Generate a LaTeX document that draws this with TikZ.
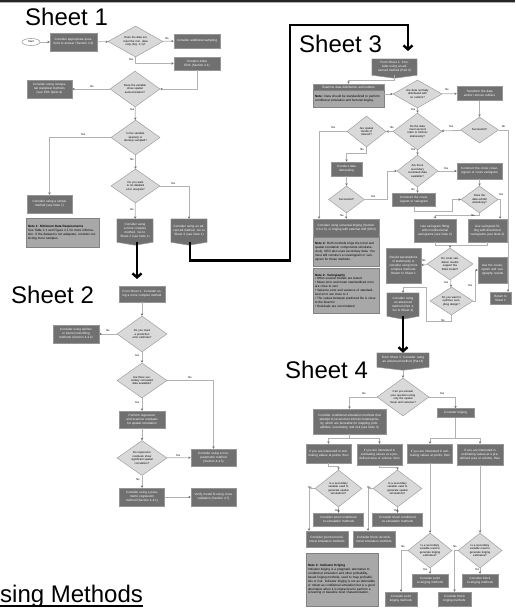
\documentclass[tikz,border=0pt]{standalone}
\usepackage{fontspec}
\setmainfont{Liberation Sans}
\usetikzlibrary{shapes.geometric,arrows.meta,calc}
\newcommand\nodefont{\fontsize{3.1}{3.9}\selectfont}
\newcommand\diafont{\fontsize{2.8}{3.4}\selectfont}
\newcommand\lblfont{\fontsize{2.7}{3}\selectfont}
\newcommand\bigtitlefont{\fontsize{24}{28}\selectfont}
\definecolor{bx}{RGB}{112,112,112}
\definecolor{bxe}{RGB}{150,150,150}
\definecolor{dg}{RGB}{217,217,217}
\definecolor{dge}{RGB}{160,160,160}
\definecolor{nt}{RGB}{168,168,168}
\definecolor{nte}{RGB}{130,130,130}
\definecolor{ln}{RGB}{178,178,178}
\definecolor{tipc}{RGB}{110,110,110}
\newcommand\offpage[1]{%
  \fill[bx] (#1.south west) -- ($(#1.south)+(0,3)$) -- (#1.south east) -- cycle;
  \draw[bxe,line width=0.5pt,line join=round] (#1.north west) -- (#1.north east) -- (#1.south east) -- ($(#1.south)+(0,3)$) -- (#1.south west) -- cycle;}
\tikzset{
  box/.style 2 args={rectangle, fill=bx, draw=bxe, line width=0.5pt, text=white, font=\nodefont, align=center, inner sep=0.5pt, minimum width=#1pt, minimum height=#2pt, text width=#1pt-4pt},
  opg/.style 2 args={rectangle, fill=bx, draw=none, text=white, font=\nodefont, align=center, inner sep=0.5pt, minimum width=#1pt, minimum height=#2pt-3pt, text width=#1pt-4pt},
  dia/.style n args={3}{diamond, fill=dg, draw=dge, line width=0.5pt, text=black, font=\diafont, align=center, inner sep=0pt, minimum width=#1pt, minimum height=#2pt, text width=#1pt*0.5, aspect=#3},
  note/.style 2 args={rectangle, fill=nt, draw=nte, line width=0.6pt, text=black, font=\nodefont, align=left, inner sep=1.5pt, minimum width=#1pt, minimum height=#2pt, text width=#1pt-4pt},
  ell/.style={ellipse, draw=dge, fill=white, line width=0.6pt, font=\lblfont, minimum width=18pt, minimum height=7pt, inner sep=0pt},
  lbl/.style={font=\lblfont, text=black, inner sep=0pt},
  conn/.style={draw=ln, line width=0.8pt, -{Stealth[length=2.4pt,width=2.4pt,color=tipc]}},
  plain/.style={draw=ln, line width=0.8pt},
  big/.style={draw=black, line width=2.4pt, -{Straight Barb[length=4pt,width=9pt]}},
  sheet/.style={font=\bigtitlefont, anchor=base west, inner sep=0pt, text=black}
}
\begin{document}
\begin{tikzpicture}[x=1pt,y=-1pt]
\useasboundingbox (0,0) rectangle (515,612);
\fill[white] (0,0) rectangle (515,612);
\fill[gray!30!black] (0,0) rectangle (515,2.2);
\fill[gray!60] (0,2.2) rectangle (515,3);

% ---------------- Sheet 1 ----------------
\node[sheet] (t1) at (25,26) {Sheet 1};
\node[ell] (start) at (31,42) {Start};
\node[box={47}{18}] (s1b1) at (73.5,42) {Consider appropriate questions to answer (Section 2.3)};
\node[dia={55}{31}{1.77}] (s1d1) at (135.5,41.5) {Does the data set meet the min. data reqs (Fig. 2.1)?};
\node[box={46}{14}] (s1r1) at (197,41) {Consider additional sampling};
\node[box={46}{13}] (s1r2) at (197,63.5) {Conduct initial EDA (Section 4.1)};
\node[dia={50}{36}{1.39}] (s1d2) at (135,89) {Does the variable show spatial autocorrelation?};
\node[box={45}{18}] (s1l1) at (49.5,89) {Consider using nonspatial statistical methods (see EPA QA/G-9)};
\node[dia={49}{35}{1.4}] (s1d3) at (135.5,137.5) {Is the variable sparsely or densely sampled?};
\node[box={45}{18}] (s1l2) at (49.5,204) {Consider using a simple method (see Note 1)};
\node[note={73}{29}] (s1n1) at (62.5,232.5) {\textbf{Note 1: Minimum Data Requirements}\\See Table 2.1 and Figure 2.1 for more information. If the dataset is not adequate, consider collecting more samples.};
\node[dia={49}{34}{1.44}] (s1d4) at (135.5,186) {Do you want to do detailed error analysis?};
\node[opg={36}{26}] (s1o1) at (135,230.5) {Consider using a more complex method. Go to Sheet 2 (see Note 1)};
\offpage{s1o1}
\node[opg={36}{26}] (s1o2) at (189,230.5) {Consider using an advanced method. Go to Sheet 3 (see Note 1)};
\offpage{s1o2}

\draw[conn] (start) -- (s1b1);
\draw[conn] (s1b1) -- (s1d1);
\draw[conn] (s1d1) -- (s1r1);
\draw[conn] (s1d1.south) |- (s1r2.west);
\draw[conn] (s1r2.south) |- (s1d2.east);
\draw[conn] (s1d2) -- (s1l1);
\draw[conn] (s1d2) -- (s1d3);
\draw[conn] (s1d3.west) -| (s1l2.north);
\draw[conn] (s1d3) -- (s1d4);
\draw[conn] (s1d4.east) -| (s1o2.north);
\draw[conn] (s1d4) -- (s1o1);
\node[lbl] (l101) at (167,38.5) {No};
\node[lbl] (l102) at (131,59.5) {Yes};
\node[lbl] (l103) at (92,87) {No};
\node[lbl] (l104) at (132,110) {Yes};
\node[lbl] (l105) at (83,134.5) {Yes};
\node[lbl] (l106) at (132,159.5) {No};
\node[lbl] (l107) at (173,183.5) {Yes};
\node[lbl] (l108) at (132,210) {No};

% ---------------- Sheet 2 ----------------
\node[sheet] (t2) at (11,303) {Sheet 2};
\node[box={46}{16}] (s2t) at (142,294) {From Sheet 1: Consider using a more complex method};
\node[dia={50}{36}{1.39}] (s2d1) at (142,334) {Do you need a prediction error estimate?};
\node[box={46}{18}] (s2l) at (76,334) {Consider using splines or kernel smoothing methods (Section 4.4.2)};
\node[dia={50}{35}{1.43}] (s2d2) at (142,380.5) {Are there secondary correlated data available?};
\node[box={46}{17}] (s2b) at (142,419.5) {Perform regression and examine residuals for spatial correlation};
\node[dia={50}{35}{1.43}] (s2d3) at (142,458) {Do regression residuals show significant spatial correlation?};
\node[box={45}{17}] (s2r1) at (213.5,457.5) {Consider using a nonparametric method (Section 4.4.3)};
\node[box={45}{18}] (s2c) at (142,497) {Consider using a parametric regression method (Section 4.4.1)};
\node[box={45}{18}] (s2r2) at (213.5,497) {Verify model fit using cross validation (Section 4.7)};

\draw[conn] (s2t) -- (s2d1);
\draw[conn] (s2d1) -- (s2l);
\draw[conn] (s2d1) -- (s2d2);
\draw[conn] (s2d2.east) -| (s2r1.north);
\draw[conn] (s2d2) -- (s2b);
\draw[conn] (s2b) -- (s2d3);
\draw[conn] (s2d3) -- (s2r1);
\draw[conn] (s2d3) -- (s2c);
\draw[conn] (s2c) -- (s2r2);
\node[lbl] (l201) at (108,331) {No};
\node[lbl] (l202) at (137,356) {Yes};
\node[lbl] (l203) at (190,378) {No};
\node[lbl] (l204) at (137,403) {Yes};
\node[lbl] (l205) at (178,456) {Yes};
\node[lbl] (l206) at (138,480) {No};

% ---------------- Sheet 3 ----------------
\node[sheet] (t3) at (299,53) {Sheet 3};
\node[opg={45}{19}] (s3t) at (394.5,67) {From Sheet 1: Consider using an advanced method (Part 3)};
\offpage{s3t}
\node[box={71}{6}] (s3eh) at (348.5,87) {Examine data distribution and outliers};
\node[note={71}{17}] (s3eb) at (348.5,98.5) {\textbf{Note:} Data should be standardized to perform conditional simulation and factorial kriging.};
\node[dia={49}{28}{1.75}] (s3da) at (417.5,94) {Are data normally distributed with no outliers?};
\node[box={45}{14}] (s3tr) at (479.5,93.5) {Transform the data and/or remove outliers};
\node[dia={38}{26}{1.46}] (s3sc) at (479.5,130) {Successful?};
\node[dia={49}{37}{1.32}] (s3db) at (417.5,131.5) {Do the data meet second order or intrinsic stationarity?};
\node[dia={39}{31}{1.26}] (s3dc) at (366.5,131.5) {Are spatial trends of interest?};
\node[box={31}{14}] (s3det) at (346.5,169) {Conduct data detrending};
\node[dia={36}{27}{1.33}] (s3sc2) at (346.5,199.5) {Successful?};
\node[box={66}{18}] (s3ukh) at (346,228) {Consider using universal kriging (Section 4.3.2.3), or kriging with external drift (KED)};
\node[note={66}{29}] (s3ukb) at (346,251.5) {\textbf{Note 4:} Both methods krige the trend and spatial correlation components simultaneously. KED also uses secondary data. You must still construct a covariogram or variogram for these methods.};
\node[note={66}{45}] (s3n2) at (346,290.5) {\textbf{Note 2: Variography}\\%
• Often several models are tested\\%
• Mean error and mean standardized error are close to zero\\%
• Variance error and variance of standardized error are close to 1\\%
• The values between predicted fits is close to the bisector\\%
• Residuals are uncorrelated};
\node[dia={41}{32}{1.28}] (s3dd) at (417.5,171) {Are there secondary correlated data available?};
\node[box={45}{16}] (s3cx) at (479.5,171) {Construct the cross covariogram or cross variogram};
\node[box={43}{13}] (s3cv) at (414,199.5) {Construct the covariogram or variogram};
\node[dia={37}{27}{1.37}] (s3ae) at (479.5,199.5) {Does the data exhibit anisotropy?};
\node[box={42}{23}] (s3vn) at (435,230.5) {Use variogram fitting with nondirectional variograms (see Note 2)};
\node[box={39}{23}] (s3vd) at (487.5,230.5) {Use variogram fitting with directional variograms (see Note 2)};
\node[dia={46}{32}{1.44}] (s3cvd) at (450,264) {Do cross validation results support the fitted model?};
\node[box={35}{35}] (s3rev) at (403.5,265.5) {Revisit assumptions of stationarity or consider using more complex methods. Return to Sheet 1};
\node[dia={43}{28}{1.54}] (s3opt) at (451.5,301) {Do you want to optimize sampling design?};
\node[box={29}{26}] (s3use) at (492.5,270) {Use the covariogram and variography results};
\node[opg={32}{26}] (s3adv) at (403,304.5) {Consider using an advanced method (Part 4, Go to Sheet 4)};
\offpage{s3adv}
\node[box={21}{12}] (s3ret) at (500.5,298) {Return to Sheet 1};

\draw[conn] (s3t.south) -- ++(0,5) -| (s3eh.north);
\draw[conn] (s3eb.east |- s3da.west) -- (s3da.west);
\draw[conn] (s3da) -- (s3tr);
\draw[conn] (s3da) -- (s3db);
\draw[conn] (s3tr) -- (s3sc);
\draw[conn] (s3sc) -- (s3db);
\draw[conn] (s3sc.east) -| ([xshift=7.5pt]s3ret.north);
\draw[conn] (s3db) -- (s3dc);
\draw[conn] (s3dc.west) -| ([xshift=-27pt]s3ukh.north);
\draw[conn] (s3dc.south) -- ++(0,6) -| (s3det.north);
\draw[conn] (s3det) -- (s3sc2);
\draw[conn] (s3sc2) -- (s3ukh);
\draw[conn] (s3sc2.east) -- ++(23,0) |- (s3dd.west);
\draw[conn] (s3db) -- (s3dd);
\draw[conn] (s3dd) -- (s3cx);
\draw[conn] (s3dd.south) -- (s3dd.south |- s3cv.north);
\draw[conn] (s3cx) -- (s3ae);
\draw[conn] (s3cv.south) -- ++(0,5) -| ([xshift=-8pt]s3ae.west) -- (s3ae.west);
\draw[conn] (s3ae.south) -- ++(0,2) -| (s3vn.north);
\draw[conn] (s3ae.east) -| ([xshift=12.5pt]s3vd.north);
\coordinate (m3) at (450,245);
\draw[plain] (s3vn.south) |- (m3);
\draw[plain] (s3vd.south) |- (m3);
\draw[conn] (m3) -- (s3cvd.north);
\draw[conn] (s3cvd) -- (s3rev);
\draw[conn] (s3cvd) -- (s3opt);
\draw[conn] (s3opt.east) -- ++(2.5,0) |- (s3use.west);
\coordinate (q3) at (426,287);
\draw[conn] (s3opt.south) -- ++(0,6) -| (q3) -| (s3adv.north);
\node[lbl] (l301) at (447,90) {No};
\node[lbl] (l302) at (413,110) {Yes};
\node[lbl] (l303) at (503.5,127) {No};
\node[lbl] (l304) at (451,127) {Yes};
\node[lbl] (l305) at (392,127.5) {No};
\node[lbl] (l306) at (413,150) {Yes};
\node[lbl] (l307) at (333,127.5) {Yes};
\node[lbl] (l308) at (362,149.5) {No};
\node[lbl] (l309) at (342,215.5) {No};
\node[lbl] (l310) at (373,196.5) {Yes};
\node[lbl] (l311) at (446,168.5) {Yes};
\node[lbl] (l312) at (413,190) {No};
\node[lbl] (l313) at (473,215.5) {No};
\node[lbl] (l314) at (501,195) {Yes};
\node[lbl] (l315) at (424,261) {No};
\node[lbl] (l316) at (446,283) {Yes};
\node[lbl] (l317) at (470,286) {Yes};
\node[lbl] (l318) at (443,320.5) {No};

% ---------------- Sheet 4 ----------------
\node[sheet] (t4) at (285,378) {Sheet 4};
\node[opg={52}{17}] (s4t) at (403,360) {From Sheet 3: Consider using an advanced method (Part 4)};
\offpage{s4t}
\node[dia={52}{38}{1.37}] (s4d) at (403,397) {Can you answer your question using only the spatial mean and variance?};
\node[box={73}{25}] (s4sim) at (349.5,421.5) {Consider conditional simulation methods that attempt to reconstruct intrinsic heterogeneity, which are favorable for mapping probabilities, uncertainty, and risk (see Note 3)};
\node[box={37}{9}] (s4kr) at (455.5,413) {Consider kriging};
\node[box={45}{19}] (s4p1) at (328.5,453.5) {If you are interested in estimating values at points, then};
\node[box={45}{21}] (s4a1) at (379.5,454.5) {If you are interested in estimating values at a predefined area or volume, then};
\node[box={45}{19}] (s4p2) at (430,453.5) {If you are interested in estimating values at points, then};
\node[box={46}{21}] (s4a2) at (480,454.5) {If you are interested in estimating values at a predefined area or volume, then};
\node[dia={47}{37}{1.27}] (s4da) at (338.5,488.5) {Is a secondary variable used to generate spatial simulations?};
\node[dia={49}{37}{1.32}] (s4db) at (397.5,488.5) {Is a secondary variable used to generate spatial simulations?};
\node[box={50}{13}] (s4pc) at (338.5,519.5) {Consider point conditional co-simulation methods};
\node[box={50}{13}] (s4bc) at (397.5,519.5) {Consider block conditional co-simulation methods};
\node[box={42}{16}] (s4pu) at (327,539) {Consider point unconditional simulation methods};
\node[box={42}{16}] (s4bu) at (374,539) {Consider block unconditional simulation methods};
\node[note={72}{53}] (s4n3) at (342,579.5) {\textbf{Note 3: Indicator Kriging}\\Indicator kriging is a pragmatic alternative to conditional simulation and other probability-based kriging methods, used to map probabilities or risk. Indicator kriging is not as defensible or robust as conditional simulation but is a good alternative when it is impractical to perform a screening or baseline level characterization.};
\node[dia={44}{35}{1.26}] (s4dc) at (430,550.5) {Is a secondary variable used to generate kriging estimates?};
\node[dia={44}{35}{1.26}] (s4dd) at (480,550.5) {Is a secondary variable used to generate kriging estimates?};
\node[box={36}{13}] (s4pck) at (430,580.5) {Consider point co-kriging methods};
\node[box={36}{13}] (s4bck) at (480,580.5) {Consider block co-kriging methods};
\node[box={32}{14}] (s4pk) at (401,599) {Consider point kriging methods};
\node[box={33}{14}] (s4bk) at (454.5,599) {Consider block kriging methods};

\draw[conn] ($(s4t.south)+(0,3)$) -- (s4d.north);
\draw[conn] (s4d.west) -| (s4sim.north);
\draw[conn] (s4d.east) -| (s4kr.north);
\coordinate (j4a) at (349.5,438);
\coordinate (j4b) at (455.5,438);
\draw[plain] (s4sim.south) -- (j4a);
\draw[conn] (j4a) -| (s4p1.north);
\draw[conn] (j4a) -| (s4a1.north);
\draw[plain] (s4kr.south) -- (j4b);
\draw[conn] (j4b) -| (s4p2.north);
\draw[conn] (j4b) -| (s4a2.north);
\draw[conn] (s4p1.south) -- ++(0,3) -| (s4da.north);
\draw[conn] (s4a1.south) -- ++(0,2) -| (s4db.north);
\draw[conn] (s4da.west) -| ([xshift=-18pt]s4pu.north);
\draw[conn] (s4da) -- (s4pc);
\draw[conn] (s4db.west) -| ([xshift=-6pt]s4bu.north);
\draw[conn] (s4db) -- (s4bc);
\draw[conn] (s4p2) -- (s4dc);
\draw[conn] (s4a2) -- (s4dd);
\draw[conn] (s4dc.west) -| (s4pk.north);
\draw[conn] (s4dc) -- (s4pck);
\draw[conn] (s4dd.west) -| (s4bk.north);
\draw[conn] (s4dd) -- (s4bck);
\node[lbl] (l401) at (364,393.5) {No};
\node[lbl] (l402) at (442,393.5) {Yes};
\node[lbl] (l403) at (310,488) {No};
\node[lbl] (l404) at (337,510.5) {Yes};
\node[lbl] (l405) at (369,488) {No};
\node[lbl] (l406) at (396,510.5) {Yes};
\node[lbl] (l407) at (403,547) {No};
\node[lbl] (l408) at (425,570) {Yes};
\node[lbl] (l409) at (455,547) {No};
\node[lbl] (l410) at (477,570) {Yes};

% ---------------- sheet-to-sheet arrows ----------------
\coordinate (k1) at (137,279);
\draw[big] ([xshift=2pt]s1o1.south) -- (k1);
\coordinate (k2a) at (290,260.5);
\coordinate (k2b) at (290,25);
\coordinate (k2c) at (408,25);
\coordinate (k2d) at (408,51);
\draw[big] ([xshift=1pt]s1o2.south) |- (k2a) -- (k2b) -- (k2c) -- (k2d);
\draw[big] (s3adv.south) -- (s3adv.south |- s4t.north);

% ---------------- caption ----------------
\node[font=\bigtitlefont, anchor=base west, inner sep=0pt] (cap) at (0,602) {sing Methods};
\draw[line width=1.2pt] (cap.base west) ++(0,4) coordinate (u1) -- (cap.base east |- u1);
\end{tikzpicture}
\end{document}
